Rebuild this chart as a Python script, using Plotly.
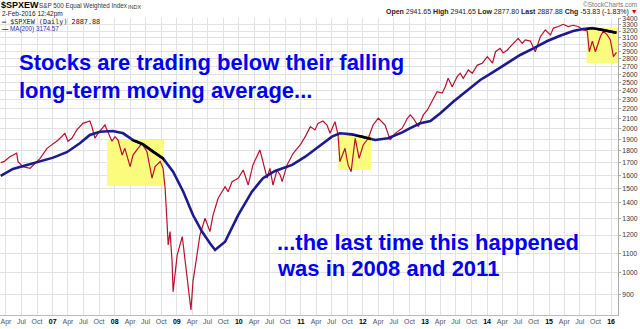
import math
import pandas as pd
import plotly.graph_objects as go

# ---- $SPXEW daily close (sampled) ----
price_dates = [
    "2006-03-01", "2006-03-20", "2006-04-24", "2006-06-03", "2006-06-11", "2006-07-10",
    "2006-08-21", "2006-09-08", "2006-10-19", "2006-11-29", "2007-01-04", "2007-02-03",
    "2007-03-14", "2007-04-01", "2007-04-24", "2007-05-23", "2007-06-28", "2007-08-08",
    "2007-08-20", "2007-09-07", "2007-09-25", "2007-10-18", "2007-11-05", "2007-11-17",
    "2007-12-16", "2008-01-03", "2008-01-21", "2008-02-14", "2008-03-01", "2008-04-01",
    "2008-04-18", "2008-05-17", "2008-06-10", "2008-07-09", "2008-08-08", "2008-08-26",
    "2008-09-25", "2008-10-12", "2008-10-24", "2008-11-05", "2008-11-11", "2008-11-22",
    "2008-12-04", "2008-12-10", "2009-01-03", "2009-02-02", "2009-02-20", "2009-03-07",
    "2009-03-25", "2009-04-06", "2009-04-30", "2009-05-17", "2009-06-16", "2009-07-15",
    "2009-08-02", "2009-09-01", "2009-10-12", "2009-10-30", "2009-11-22", "2009-12-28",
    "2010-01-27", "2010-02-25", "2010-03-25", "2010-05-05", "2010-05-23", "2010-06-16",
    "2010-07-03", "2010-07-21", "2010-08-14", "2010-09-01", "2010-09-13", "2010-10-12",
    "2010-11-17", "2010-12-28", "2011-01-27", "2011-02-26", "2011-03-25", "2011-04-12",
    "2011-05-11", "2011-06-04", "2011-06-22", "2011-07-21", "2011-08-08", "2011-08-19",
    "2011-09-18", "2011-10-06", "2011-10-24", "2011-11-17", "2011-12-10", "2012-01-03",
    "2012-02-02", "2012-03-01", "2012-04-01", "2012-05-11", "2012-06-10", "2012-07-09",
    "2012-08-20", "2012-09-19", "2012-10-06", "2012-10-24", "2012-11-23", "2012-12-22",
    "2013-01-15", "2013-02-14", "2013-03-13", "2013-04-12", "2013-04-30", "2013-05-17",
    "2013-06-10", "2013-07-09", "2013-07-27", "2013-08-14", "2013-09-13", "2013-10-06",
    "2013-11-05", "2013-12-04", "2014-01-03", "2014-02-02", "2014-02-20", "2014-03-19",
    "2014-04-06", "2014-04-30", "2014-06-04", "2014-07-03", "2014-07-27", "2014-08-14",
    "2014-09-13", "2014-10-12", "2014-11-11", "2014-12-10", "2015-01-09", "2015-01-27",
    "2015-02-25", "2015-03-25", "2015-04-24", "2015-05-23", "2015-06-22", "2015-07-21",
    "2015-08-14", "2015-08-26", "2015-09-13", "2015-10-01", "2015-10-30", "2015-11-17",
    "2015-12-10", "2015-12-28", "2016-01-15", "2016-02-02",
]
price_values = [
    1700, 1708, 1749, 1778, 1708, 1667,
    1654, 1681, 1735, 1821, 1865, 1895,
    1957, 1884, 1911, 1989, 2053, 2076,
    2021, 1911, 1957, 2006, 2037, 1989,
    1884, 1926, 1895, 1763, 1821, 1667,
    1763, 1821, 1865, 1792, 1577, 1667,
    1708, 1654, 1503, 1260, 1144, 1220,
    1056, 914, 1090, 1191, 1056, 959,
    837, 959, 1090, 1200, 1301, 1220,
    1321, 1432, 1514, 1478, 1551, 1577,
    1641, 1526, 1681, 1806, 1708, 1577,
    1654, 1526, 1641, 1602, 1551, 1681,
    1778, 1850, 1926, 2021, 1989, 2053,
    2076, 2037, 1957, 2069, 1942, 1708,
    1821, 1681, 1627, 1911, 1735, 1850,
    1911, 2037, 2104, 2037, 1895, 1957,
    2006, 2104, 2138, 2104, 2021, 2138,
    2190, 2297, 2391, 2374, 2449, 2550,
    2449, 2570, 2612, 2550, 2654, 2612,
    2717, 2741, 2829, 2741, 2897, 2944,
    2881, 2921, 3017, 3090, 3017, 3065,
    3049, 2897, 3114, 3217, 3139, 3246,
    3270, 3305, 3270, 3290, 3270, 3217,
    3200, 2897, 3049, 2897, 3114, 3200,
    3139, 3065, 2829, 2887.88,
]

# ---- 200-day moving average ----
ma_dates = [
    "2006-03-01", "2006-05-12", "2006-08-03", "2006-10-19", "2007-01-04", "2007-03-25",
    "2007-06-10", "2007-08-08", "2007-10-06", "2007-12-22", "2008-02-20", "2008-04-18",
    "2008-06-16", "2008-08-14", "2008-10-12", "2008-12-10", "2009-02-08", "2009-04-06",
    "2009-05-29", "2009-07-15", "2009-08-14", "2009-10-12", "2009-12-28", "2010-03-19",
    "2010-05-23", "2010-08-02", "2010-11-11", "2011-01-27", "2011-04-12", "2011-07-03",
    "2011-08-19", "2011-10-30", "2012-01-15", "2012-03-13", "2012-05-28", "2012-08-20",
    "2012-10-06", "2012-12-04", "2013-02-02", "2013-04-01", "2013-06-16", "2013-09-07",
    "2013-11-22", "2014-02-08", "2014-04-30", "2014-07-15", "2014-10-01", "2014-12-22",
    "2015-03-07", "2015-05-23", "2015-07-21", "2015-09-13", "2015-11-17", "2016-02-02",
]
ma_values = [
    1595, 1649, 1681, 1708, 1741, 1787,
    1865, 1941, 1972, 1979, 1957, 1895,
    1856, 1792, 1735, 1627, 1478, 1321,
    1220, 1153, 1117, 1162, 1321, 1478,
    1577, 1633, 1681, 1749, 1835, 1926,
    1957, 1948, 1917, 1895, 1911, 1966,
    2006, 2053, 2076, 2155, 2278, 2410,
    2529, 2630, 2741, 2852, 2944, 3050,
    3129, 3200, 3232, 3246, 3217, 3174.57,
]

# ---- tick labels ----
y_tick_values = [900, 1000, 1100, 1200, 1300, 1400, 1500, 1600, 1700, 1800, 1900, 2000,
                 2100, 2200, 2300, 2400, 2500, 2600, 2700, 2800, 2900, 3000, 3100, 3200,
                 3300, 3400]
year_labels = ["07", "08", "09", "10", "11", "12", "13", "14", "15", "16"]
month_labels = ["Apr", "Jul", "Oct"]

# highlighted periods: (start, end, low, high)
highlights = [
    ("2007-11-18", "2008-10-18", 1519, 1895),
    ("2011-08-10", "2012-02-18", 1641, 1941),
    ("2015-08-11", "2016-03-01", 2741, 3252),
]

X_START, X_END = pd.Timestamp("2006-02-25"), pd.Timestamp("2016-02-11")
Y_LO, Y_HI = math.log10(817), math.log10(3407)

W, H = 640, 329
M_L, M_R, M_T, M_B = 0, 22, 18, 14
PW, PH = W - M_L - M_R, H - M_T - M_B


def fx(px):
    return (px - M_L) / PW


def fy(py):
    return (H - M_B - py) / PH


def date_frac(d):
    d = pd.Timestamp(d)
    return (d - X_START) / (X_END - X_START)


# quarter ticks with bold year labels
tick_vals, tick_text = [], []
for d in pd.date_range("2006-04-01", "2016-01-01", freq="QS"):
    tick_vals.append(d.strftime("%Y-%m-%d"))
    if d.month == 1:
        tick_text.append("<b><span style='color:#000'>%s</span></b>" % year_labels[d.year - 2007])
    else:
        tick_text.append(month_labels[(d.month - 4) // 3])

FONT = "Liberation Sans, Arial, sans-serif"
BLUE_MA = "#1b1b8f"
PRICE = "#b5112f"

fig = go.Figure()
fig.add_trace(go.Scatter(x=price_dates, y=price_values, mode="lines",
                         line=dict(color=PRICE, width=1.2), hoverinfo="skip"))
fig.add_trace(go.Scatter(x=ma_dates, y=ma_values, mode="lines",
                         line=dict(color=BLUE_MA, width=2.6), hoverinfo="skip"))

shapes = []
layout_axes = {}
for i, (d0, d1, v0, v1) in enumerate(highlights, start=2):
    shapes.append(dict(type="rect", xref="x", yref="y", x0=d0, x1=d1, y0=v0, y1=v1,
                       fillcolor="#fbfb7e", line=dict(width=0), layer="between"))
    # the moving average reads black where it crosses a highlight
    a, b = max(0.0, date_frac(d0)), min(1.0, date_frac(d1))
    end = min(pd.Timestamp(d1), X_END)
    c = (math.log10(v0) - Y_LO) / (Y_HI - Y_LO)
    e = (math.log10(v1) - Y_LO) / (Y_HI - Y_LO)
    layout_axes["xaxis%d" % i] = dict(domain=[a, b], range=[d0, end.strftime("%Y-%m-%d")],
                                      anchor="y%d" % i, visible=False, showgrid=False,
                                      fixedrange=True)
    layout_axes["yaxis%d" % i] = dict(domain=[c, e], type="log",
                                      range=[math.log10(v0), math.log10(v1)],
                                      anchor="x%d" % i, visible=False, showgrid=False,
                                      fixedrange=True)
    fig.add_trace(go.Scatter(x=ma_dates, y=ma_values, mode="lines",
                             line=dict(color="#000000", width=2.6), hoverinfo="skip",
                             xaxis="x%d" % i, yaxis="y%d" % i))

annotations = []


def add_text(text, x, y, size, color="#000", xanchor="left", family=FONT):
    annotations.append(dict(text=text, x=fx(x), y=fy(y), xref="paper", yref="paper",
                            xanchor=xanchor, yanchor="middle", showarrow=False,
                            font=dict(family=family, size=size, color=color), borderpad=0))


# header
add_text("<b>$SPXEW</b>", 0, 5.5, 9)
add_text("S&P 500 Equal Weighted Index", 38, 6, 6.3, "#333")
add_text("INDX", 127, 6.5, 5.5, "#333")
add_text("2-Feb-2016 12:42pm", 1, 14, 6.5, "#222")
add_text("\u00a9StockCharts.com", 638, 4.5, 6.5, "#777", xanchor="right")
add_text("<b>Open</b> 2941.65 <b>High</b> 2941.65 <b>Low</b> 2877.80 <b>Last</b> 2887.88 "
         "<b>Chg</b> -53.83 (-1.83%) <span style='color:#c00'>\u25bc</span>",
         639, 12, 7, "#222", xanchor="right")

# legend
add_text("<b>\u2014</b> $SPXEW (Daily) %.2f" % price_values[-1], 1, 22.5, 6.8, "#222",
         family="DejaVu Sans Mono, monospace")
add_text("<span style='color:%s'><b>\u2014</b></span> MA(200) %.2f" % (BLUE_MA, ma_values[-1]),
         1, 29.5, 6.3, "#2233aa")

# commentary
TXT_BLUE = "#0000f0"
add_text("<b>Stocks are trading below their falling</b>", 18, 63, 22, TXT_BLUE)
add_text("<b>long-term moving average...</b>", 18, 90, 22, TXT_BLUE)
add_text("<b>...the last time this happened</b>", 276, 242, 22, TXT_BLUE)
add_text("<b>was in 2008 and 2011</b>", 276, 268, 22, TXT_BLUE)

fig.update_layout(
    width=W, height=H,
    margin=dict(l=M_L, r=M_R, t=M_T, b=M_B, pad=0),
    paper_bgcolor="#ffffff", plot_bgcolor="rgba(0,0,0,0)",
    showlegend=False,
    shapes=shapes,
    annotations=annotations,
    xaxis=dict(type="date", range=[X_START.strftime("%Y-%m-%d"), X_END.strftime("%Y-%m-%d")],
               tickvals=tick_vals, ticktext=tick_text, ticks="",
               tickfont=dict(family=FONT, size=7, color="#555"),
               showgrid=True, gridcolor="#e2e2e2", gridwidth=1,
               showline=True, linecolor="#bbbbbb", linewidth=1, mirror=False,
               zeroline=False, fixedrange=True),
    yaxis=dict(type="log", range=[Y_LO, Y_HI], side="right",
               tickvals=y_tick_values, ticktext=[str(v) for v in y_tick_values],
               ticks="outside", ticklen=2, tickcolor="#aaaaaa",
               tickfont=dict(family=FONT, size=6.8, color="#333"),
               showgrid=True, gridcolor="#e2e2e2", gridwidth=1,
               showline=True, linecolor="#aaaaaa", linewidth=1,
               zeroline=False, fixedrange=True),
    **layout_axes,
)

fig.write_html("out.html", config={"displayModeBar": False, "staticPlot": True})
